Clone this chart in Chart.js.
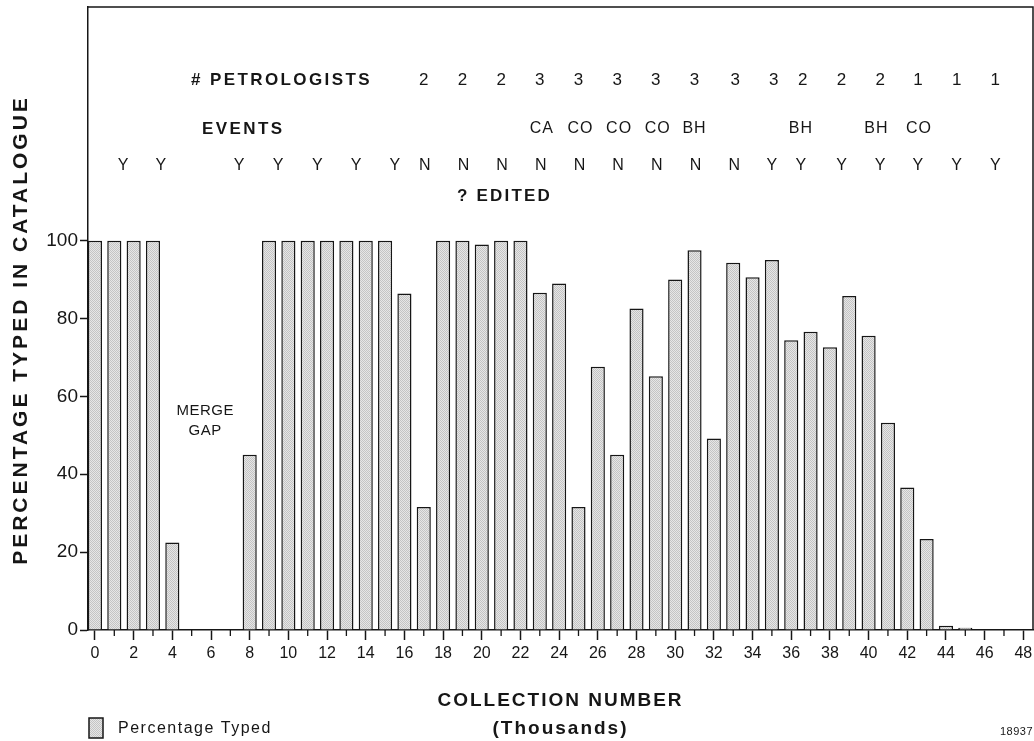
<!DOCTYPE html>
<html>
<head>
<meta charset="utf-8">
<title>Percentage Typed in Catalogue</title>
<script src="https://cdn.jsdelivr.net/npm/chart.js@4.4.1/dist/chart.umd.min.js"></script>
<style>
  html, body { margin: 0; padding: 0; background: #fff; }
  canvas { display: block; }
</style>
</head>
<body>
<canvas id="typedChart" width="1034" height="741"></canvas>
<script>
// collection number (thousands) of each bar
const collections = [0, 1, 2, 3, 4, 5, 6, 7, 8, 9, 10, 11, 12, 13, 14, 15, 16, 17, 18, 19, 20, 21, 22, 23,
    24, 25, 26, 27, 28, 29, 30, 31, 32, 33, 34, 35, 36, 37, 38, 39, 40, 41, 42, 43, 44, 45, 46, 47];

// percentage typed in catalogue
const percentTyped = [100, 100, 100, 100, 22.5, 0, 0, 0, 45, 100, 100, 100, 100, 100, 100, 100, 86.4, 31.6,
    100, 100, 99, 100, 100, 86.6, 89, 31.6, 67.6, 45, 82.6, 65.2, 90, 97.5, 49.2, 94.3, 90.6, 95, 74.4,
    76.6, 72.6, 85.8, 75.6, 53.2, 36.6, 23.4, 1.1, 0.6, 0, 0];

// axis ticks
const xTicks = collections.concat([48]);
const yTicks = [0, 20, 40, 60, 80, 100];

// header rows (collection number where each entry sits)
const petroAt = [17, 19, 21, 23, 25, 27, 29, 31, 33.1, 35.1, 36.6, 38.6, 40.6, 42.55, 44.55, 46.55];
const petroCount = ['2', '2', '2', '3', '3', '3', '3', '3', '3', '3', '2', '2', '2', '1', '1', '1'];

const eventAt = [23.1, 25.1, 27.1, 29.1, 31.0, 36.5, 40.4, 42.6];
const eventCode = ['CA', 'CO', 'CO', 'CO', 'BH', 'BH', 'BH', 'CO'];

const editedAt = [1.45, 3.4, 7.45, 9.47, 11.5, 13.5, 15.5, 17.05, 19.05, 21.05, 23.05, 25.05, 27.05,
    29.05, 31.05, 33.05, 35.0, 36.5, 38.6, 40.6, 42.55, 44.55, 46.55];
const editedFlag = ['Y', 'Y', 'Y', 'Y', 'Y', 'Y', 'Y', 'N', 'N', 'N', 'N', 'N', 'N', 'N', 'N', 'N',
    'Y', 'Y', 'Y', 'Y', 'Y', 'Y', 'Y'];

const INK = '#161616';
const FONT = '"Liberation Sans", Arial, Helvetica, sans-serif';

Chart.defaults.font.family = FONT;
Chart.defaults.color = INK;

// light grey stipple, like the shaded bars of the original
function makeHatch() {
    const c = document.createElement('canvas');
    c.width = 2;
    c.height = 2;
    const g = c.getContext('2d');
    g.fillStyle = '#e6e6e6';
    g.fillRect(0, 0, 2, 2);
    g.fillStyle = '#c4c4c4';
    g.fillRect(0, 0, 1, 1);
    g.fillRect(1, 1, 1, 1);
    return g.createPattern(c, 'repeat');
}
const hatch = makeHatch();

function drawText(ctx, str, px, py, font, align, spacing) {
    ctx.font = font;
    ctx.textAlign = align || 'center';
    ctx.textBaseline = 'middle';
    ctx.letterSpacing = (spacing || 0) + 'px';
    ctx.fillText(str, px, py);
}

// frame, minor ticks, header rows, titles and legend
const overlay = {
    id: 'overlay',
    afterDraw(chart) {
        const { ctx, chartArea: a, scales: { x, y } } = chart;
        ctx.save();
        ctx.strokeStyle = INK;
        ctx.fillStyle = INK;

        // top and right sides of the box
        ctx.lineWidth = 1.5;
        ctx.beginPath();
        ctx.moveTo(a.left, a.top);
        ctx.lineTo(a.right, a.top);
        ctx.lineTo(a.right, a.bottom);
        ctx.stroke();

        // short ticks on odd collection numbers
        ctx.lineWidth = 1.3;
        ctx.beginPath();
        xTicks.filter(v => v % 2 === 1).forEach(v => {
            const px = x.getPixelForValue(v);
            ctx.moveTo(px, a.bottom);
            ctx.lineTo(px, a.bottom + 6);
        });
        ctx.stroke();

        const bold17 = 'bold 17px ' + FONT;
        drawText(ctx, '# PETROLOGISTS', 191, 80, bold17, 'left', 2.4);
        petroCount.forEach((t, i) => drawText(ctx, t, x.getPixelForValue(petroAt[i]), 80, '17px ' + FONT));

        drawText(ctx, 'EVENTS', 202, 129, bold17, 'left', 2.4);
        eventCode.forEach((t, i) => drawText(ctx, t, x.getPixelForValue(eventAt[i]), 129, '16px ' + FONT, 'center', 1));

        editedFlag.forEach((t, i) => drawText(ctx, t, x.getPixelForValue(editedAt[i]), 166, '16px ' + FONT));
        drawText(ctx, '? EDITED', 457, 196, bold17, 'left', 2.2);

        drawText(ctx, 'MERGE', x.getPixelForValue(5.7), y.getPixelForValue(56.3), '15px ' + FONT, 'center', 0.5);
        drawText(ctx, 'GAP', x.getPixelForValue(5.7), y.getPixelForValue(51.1), '15px ' + FONT, 'center', 0.5);

        // axis titles
        const midX = (a.left + a.right) / 2;
        drawText(ctx, 'COLLECTION NUMBER', midX, 701, 'bold 19px ' + FONT, 'center', 2);
        drawText(ctx, '(Thousands)', midX, 729, 'bold 19px ' + FONT, 'center', 2);

        ctx.save();
        ctx.translate(21.5, 330);
        ctx.rotate(-Math.PI / 2);
        drawText(ctx, 'PERCENTAGE TYPED IN CATALOGUE', 0, 0, 'bold 21px ' + FONT, 'center', 3);
        ctx.restore();

        // legend
        ctx.fillStyle = hatch;
        ctx.fillRect(89, 718, 14, 20);
        ctx.lineWidth = 1.5;
        ctx.strokeRect(89, 718, 14, 20);
        ctx.fillStyle = INK;
        drawText(ctx, chart.data.datasets[0].label, 118, 729, '16px ' + FONT, 'left', 1.5);

        drawText(ctx, '18937', 1033, 732, '11px ' + FONT, 'right', 0.5);
        ctx.restore();
    }
};

new Chart(document.getElementById('typedChart'), {
    type: 'bar',
    data: {
        datasets: [{
            label: 'Percentage Typed',
            data: collections.map((c, i) => ({ x: c, y: percentTyped[i] })),
            backgroundColor: hatch,
            borderColor: INK,
            borderWidth: 1.5,
            barPercentage: 0.73,
            categoryPercentage: 1
        }]
    },
    options: {
        responsive: false,
        animation: false,
        events: [],
        layout: { padding: { top: 7, right: 1, left: 0, bottom: 0 } },
        plugins: {
            legend: { display: false },
            tooltip: { enabled: false }
        },
        scales: {
            x: {
                type: 'linear',
                min: -0.36,
                max: 48.5,
                offset: false,
                afterBuildTicks: s => { s.ticks = xTicks.map(v => ({ value: v })); },
                afterFit: s => {
                    s.height = 111;
                    s.paddingLeft = 0;
                    s.paddingRight = 0;
                },
                ticks: {
                    autoSkip: false,
                    maxRotation: 0,
                    padding: 4,
                    font: { size: 16 },
                    callback: v => (v % 2 === 0 ? String(v) : '')
                },
                grid: {
                    offset: false,
                    drawOnChartArea: false,
                    tickLength: 10,
                    tickWidth: 1.5,
                    tickColor: c => (c.tick && c.tick.value % 2 === 1 ? 'rgba(0,0,0,0)' : INK)
                },
                border: { color: INK, width: 1.5 }
            },
            y: {
                min: 0,
                max: 160,
                afterBuildTicks: s => { s.ticks = yTicks.map(v => ({ value: v })); },
                afterFit: s => {
                    s.width = 88;
                    s.paddingTop = 0;
                    s.paddingBottom = 0;
                },
                ticks: { padding: 2, font: { size: 19 } },
                grid: {
                    drawOnChartArea: false,
                    tickLength: 8,
                    tickWidth: 1.5,
                    tickColor: INK
                },
                border: { color: INK, width: 1.5 }
            }
        }
    },
    plugins: [overlay]
});
</script>
</body>
</html>
